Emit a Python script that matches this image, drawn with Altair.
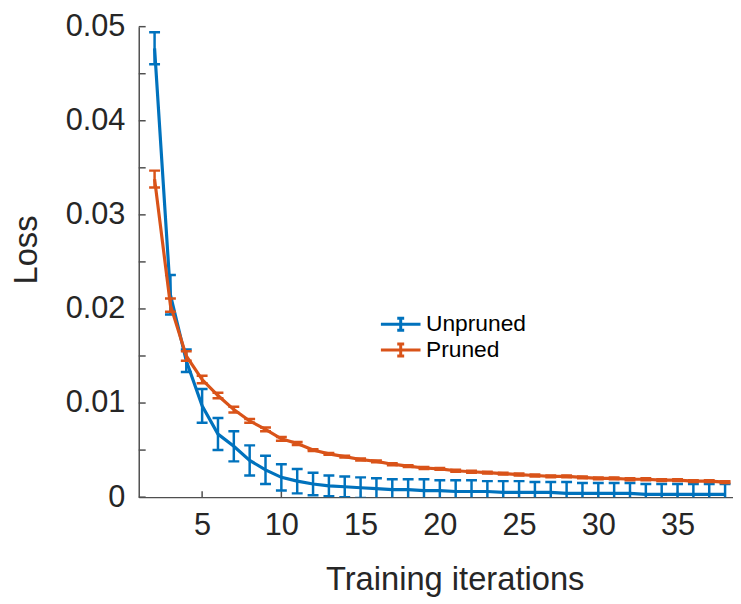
import altair as alt
import pandas as pd

iterations = list(range(2, 39))

unpruned_mean = [0.0477, 0.0215, 0.0145, 0.0097, 0.0067, 0.0054, 0.0039, 0.0029, 0.0021, 0.0017,
                 0.0014, 0.0012, 0.0011, 0.0010, 0.0009, 0.0008, 0.0008, 0.0007, 0.0007, 0.0006,
                 0.0006, 0.0006, 0.0005, 0.0005, 0.0005, 0.0005, 0.0004, 0.0004, 0.0004, 0.0004,
                 0.0004, 0.0003, 0.0003, 0.0003, 0.0003, 0.0003, 0.0003]
unpruned_err = [0.0017, 0.0021, 0.0012, 0.0018, 0.0017, 0.0016, 0.0016, 0.0015, 0.0014, 0.0013,
                0.0012, 0.0011, 0.0011, 0.0011, 0.0011, 0.0011, 0.0011, 0.0012, 0.0011, 0.0012,
                0.0012, 0.0011, 0.0012, 0.0012, 0.0011, 0.0011, 0.0012, 0.0011, 0.0011, 0.0011,
                0.0011, 0.0011, 0.0011, 0.0011, 0.0011, 0.0011, 0.0011]
pruned_mean = [0.0338, 0.0204, 0.0150, 0.0125, 0.0108, 0.0093, 0.0081, 0.0072, 0.0062, 0.0057,
               0.0050, 0.0046, 0.0043, 0.0040, 0.0038, 0.0035, 0.0033, 0.0031, 0.0030, 0.0028,
               0.0027, 0.0026, 0.0025, 0.0024, 0.0023, 0.0022, 0.0022, 0.0021, 0.0020, 0.0020,
               0.0019, 0.0019, 0.0018, 0.0018, 0.0017, 0.0017, 0.0016]
pruned_err = [0.0009, 0.0007, 0.0005, 0.0004, 0.0003, 0.0003, 0.0002, 0.0002, 0.0002, 0.00015] + [0.0001] * 27

series_names = ["Unpruned", "Pruned"]
series_colors = ["#0072BD", "#D95319"]
y_label_values = [0, 0.01, 0.02, 0.03, 0.04, 0.05]
y_tick_values = [i * 0.005 for i in range(11)]
x_tick_values = [5, 10, 15, 20, 25, 30, 35]

rows = []
for name, means, errs in [("Unpruned", unpruned_mean, unpruned_err), ("Pruned", pruned_mean, pruned_err)]:
    for x, m, e in zip(iterations, means, errs):
        rows.append({"x": x, "mean": m, "lo": m - e, "hi": m + e, "series": name})
df = pd.DataFrame(rows)

W, H = 600, 475
FONT = "Liberation Sans"
TXT = "#262626"
AX = "#4f4f4f"

xscale = alt.Scale(domain=[1, 38.5], nice=False, zero=False)
yscale = alt.Scale(domain=[0, 0.05], nice=False)

legend_path = "M-1,0H3M1,-0.6V0.6M0.65,-0.6H1.35M0.65,0.6H1.35"


def col(leg=None):
    return alt.Color("series:N", scale=alt.Scale(domain=series_names, range=series_colors), legend=leg)


layers = []
for i, s in enumerate(series_names):
    base = alt.Chart(df).transform_filter(alt.datum.series == s)
    leg = None
    if i == 0:
        leg = alt.Legend(title=None, orient="none", legendX=243, legendY=289,
                         symbolType=legend_path, symbolSize=400, symbolStrokeWidth=3,
                         labelFontSize=23, labelFont=FONT, labelColor="#000000",
                         labelOffset=24, rowPadding=1, padding=0)
    line = base.mark_line(strokeWidth=3.2, clip=True).encode(
        x=alt.X("x:Q", scale=xscale,
                axis=alt.Axis(values=x_tick_values, title="Training iterations", ticks=False, tickSize=0,
                              grid=False, labelFontSize=31, labelFont=FONT, labelColor=TXT,
                              labelPadding=14, domainColor=AX, domainWidth=1.5,
                              titleFontSize=33, titleFont=FONT, titleColor=TXT, titleFontWeight="normal",
                              titleX=319, titleY=93, titleBaseline="alphabetic", titleAlign="center")),
        y=alt.Y("mean:Q", scale=yscale,
                axis=alt.Axis(values=y_label_values, title="Loss", ticks=False, tickSize=0, grid=False,
                              labelFontSize=31, labelFont=FONT, labelColor=TXT, labelPadding=14,
                              labelExpr="datum.value == 0 ? '0' : format(datum.value, '.2f')",
                              domainColor=AX, domainWidth=1.5,
                              titleFontSize=33, titleFont=FONT, titleColor=TXT, titleFontWeight="normal",
                              titleAngle=270, titleX=-113, titleY=225, titleBaseline="middle",
                              titleAlign="center")),
        color=col(leg),
    )
    bars = base.mark_rule(strokeWidth=2.5, clip=True).encode(
        x=alt.X("x:Q", scale=xscale), y=alt.Y("lo:Q", scale=yscale), y2="hi:Q", color=col(),
    )
    cap_lo = base.mark_tick(orient="horizontal", size=11, thickness=2.5, clip=True, opacity=1).encode(
        x=alt.X("x:Q", scale=xscale), y=alt.Y("lo:Q", scale=yscale), color=col(),
    )
    cap_hi = base.mark_tick(orient="horizontal", size=11, thickness=2.5, clip=True, opacity=1).encode(
        x=alt.X("x:Q", scale=xscale), y=alt.Y("hi:Q", scale=yscale), color=col(),
    )
    layers += [line, bars, cap_lo, cap_hi]

yticks = alt.Chart(pd.DataFrame({"v": y_tick_values})).mark_rule(color=AX, strokeWidth=1.5).encode(
    y=alt.Y("v:Q", scale=yscale), x=alt.value(0), x2=alt.value(7))
xticks = alt.Chart(pd.DataFrame({"v": x_tick_values})).mark_rule(color=AX, strokeWidth=1.5).encode(
    x=alt.X("v:Q", scale=xscale), y=alt.value(H), y2=alt.value(H - 6))

chart = alt.layer(yticks, xticks, *layers).properties(
    width=W, height=H,
    autosize=alt.AutoSizeParams(type="none"),
    padding={"left": 132, "top": 16, "right": 0, "bottom": 100},
    background="white",
).configure_view(stroke=None)

chart.save("out.html", embed_options={"renderer": "svg", "actions": False})
